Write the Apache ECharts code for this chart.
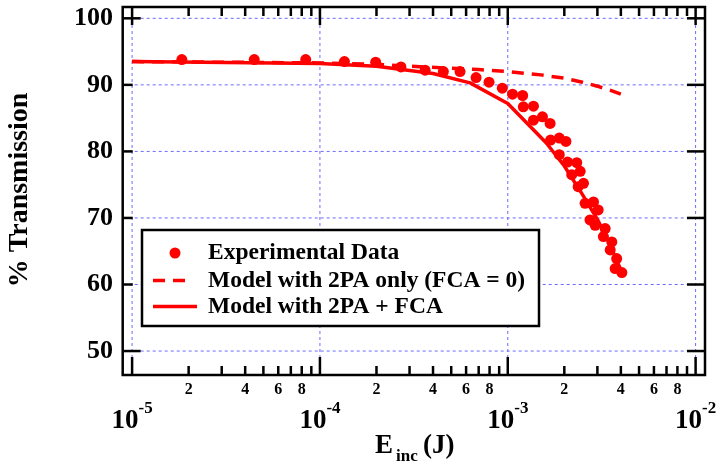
<!DOCTYPE html>
<html><head><meta charset="utf-8">
<script src="https://cdn.jsdelivr.net/npm/echarts@6/dist/echarts.min.js"></script>
<style>html,body{margin:0;padding:0;background:#fff}#c{width:719px;height:464px}</style>
</head><body><div id="c"></div>
<script>
// ---- data ----
const expE = [1.84e-5, 4.47e-5, 8.4e-5, 1.35e-4, 1.98e-4, 2.70e-4, 3.63e-4, 4.54e-4, 5.57e-4, 6.78e-4,
  7.95e-4, 9.35e-4, 1.06e-3, 1.20e-3, 1.21e-3, 1.37e-3, 1.37e-3, 1.53e-3, 1.68e-3, 1.69e-3,
  1.88e-3, 2.04e-3, 1.88e-3, 2.08e-3, 2.33e-3, 2.43e-3, 2.19e-3, 2.37e-3, 2.53e-3, 2.58e-3,
  2.86e-3, 3.03e-3, 2.74e-3, 2.92e-3, 3.30e-3, 3.23e-3, 3.58e-3, 3.51e-3, 3.80e-3, 3.73e-3, 4.05e-3];
const expT = [93.8, 93.8, 93.8, 93.5, 93.4, 92.7, 92.2, 92.0, 92.0, 91.1,
  90.4, 89.5, 88.6, 88.4, 86.7, 86.8, 84.7, 85.2, 84.2, 81.7,
  82.0, 81.5, 79.5, 78.4, 78.3, 77.0, 76.5, 74.7, 75.2, 72.2,
  72.4, 71.2, 69.7, 68.9, 68.4, 67.2, 66.4, 65.2, 63.9, 62.4, 61.8];
const tpaE = [1e-5, 1e-4, 2e-4, 3e-4, 5e-4, 7e-4, 1e-3, 1.5e-3, 2e-3, 2.5e-3, 3e-3, 3.5e-3, 4e-3];
const tpaT = [93.5, 93.3, 93.1, 92.8, 92.5, 92.3, 92.0, 91.5, 91.0, 90.4, 89.8, 89.2, 88.6];
const fcaE = [1e-5, 1e-4, 2e-4, 4e-4, 6.3e-4, 1e-3, 1.6e-3, 2e-3, 2.5e-3, 3e-3, 3.5e-3, 4e-3];
const fcaT = [93.5, 93.2, 92.8, 91.7, 90.3, 87.2, 81.3, 77.8, 73.5, 69.8, 66.0, 62.2];
const yTicks = [50, 60, 70, 80, 90, 100];
const xMajor = [1e-5, 1e-4, 1e-3, 1e-2];
const xMajorExp = ['-5', '-4', '-3', '-2'];
const xMinorMult = [2, 3, 4, 5, 6, 7, 8, 9];
const xMinorLabeled = [2, 4, 6, 8];
const seriesNames = ['Experimental Data', 'Model with 2PA only (FCA = 0)', 'Model with 2PA + FCA'];
const xTitleMain = 'E', xTitleSub = 'inc', xTitleUnit = '(J)';
const yTitle = '% Transmission';

// ---- chart ----
const RED = '#ff0000';
const FONT = '"Liberation Serif", "Times New Roman", serif';
const chart = echarts.init(document.getElementById('c'), null, {renderer: 'canvas'});
const zip = (a, b) => a.map((v, i) => [v, b[i]]);
const option = {
  animation: false,
  backgroundColor: '#fff',
  grid: {left: 122.7, right: 14, top: 7, bottom: 89, containLabel: false},
  xAxis: {type: 'log', logBase: 10, min: Math.pow(10, -5.05), max: Math.pow(10, -1.95),
    axisLine: {show: false}, axisTick: {show: false}, axisLabel: {show: false}, splitLine: {show: false}},
  yAxis: {type: 'value', min: 46.4, max: 101.7,
    axisLine: {show: false}, axisTick: {show: false}, axisLabel: {show: false}, splitLine: {show: false}},
  series: [
    {name: seriesNames[1], type: 'line', data: zip(tpaE, tpaT), showSymbol: false, z: 3,
      lineStyle: {color: RED, width: 3.5, type: [12, 8]}},
    {name: seriesNames[2], type: 'line', data: zip(fcaE, fcaT), showSymbol: false, z: 3,
      lineStyle: {color: RED, width: 3.5}},
    {name: seriesNames[0], type: 'scatter', data: zip(expE, expT), symbol: 'circle', symbolSize: 11, z: 4,
      itemStyle: {color: RED, opacity: 1}}
  ]
};
chart.setOption(option);

const px = v => chart.convertToPixel({xAxisIndex: 0}, v);
const py = v => chart.convertToPixel({yAxisIndex: 0}, v);
const L = 122.7, R = 705, T = 7, B = 375;
const g = [];
const line = (x1, y1, x2, y2, style, z) => g.push({type: 'line', z: z || 50, silent: true,
  shape: {x1, y1, x2, y2}, style: Object.assign({stroke: '#000', lineWidth: 2.5}, style)});
const text = (x, y, t, size, align, vAlign, extra) => g.push(Object.assign({type: 'text', z: 60, silent: true, x, y,
  style: {text: t, font: 'bold ' + size + 'px ' + FONT, fill: '#000', align: align, verticalAlign: vAlign}}, extra || {}));

// grid lines (dotted blue)
const gridStyle = {stroke: '#6b6bff', lineWidth: 1, lineDash: [3, 3]};
xMajor.forEach(v => line(px(v), T, px(v), B, gridStyle, 1));
yTicks.forEach(v => line(L, py(v), R, py(v), gridStyle, 1));

// frame
g.push({type: 'rect', z: 55, silent: true, shape: {x: L, y: T, width: R - L, height: B - T},
  style: {fill: 'none', stroke: '#000', lineWidth: 2.5}});

// x ticks
xMajor.forEach((v, i) => {
  const x = px(v);
  line(x, B, x, B - 18); line(x, T, x, T + 18);
  text(x - 7, 421, '10', 27, 'center', 'middle');
  text(x + 6.5, 409, xMajorExp[i], 17, 'left', 'middle');
});
xMajor.slice(0, 3).forEach(v => {
  xMinorMult.forEach(m => {
    const x = px(m * v);
    line(x, B, x, B - 9); line(x, T, x, T + 9);
    if (xMinorLabeled.indexOf(m) >= 0) text(x, 390, String(m), 16, 'center', 'middle');
  });
});
// y ticks
yTicks.forEach(v => {
  const y = py(v);
  const len = (v === 50 || v === 100) ? 18 : 10;
  line(L, y, L + len, y); line(R, y, R - 18, y);
  text(113, y, String(v), 26, 'right', 'middle');
});

// axis titles
text(375, 446, xTitleMain, 27, 'left', 'middle');
text(396, 457, xTitleSub, 17, 'left', 'middle');
text(423, 446, xTitleUnit, 27, 'left', 'middle');
text(20, 190, yTitle, 28, 'center', 'middle', {rotation: Math.PI / 2});

// legend
g.push({type: 'rect', z: 90, silent: true, shape: {x: 142, y: 230, width: 397, height: 96},
  style: {fill: '#fff', stroke: '#000', lineWidth: 2.5}});
const rows = [253, 280.5, 306.5];
g.push({type: 'circle', z: 91, silent: true, shape: {cx: 175, cy: rows[0], r: 5.5}, style: {fill: RED}});
line(153, rows[1], 185, rows[1], {stroke: RED, lineWidth: 3.5, lineDash: [12, 8]}, 91);
line(153, rows[2], 197, rows[2], {stroke: RED, lineWidth: 3.5}, 91);
seriesNames.forEach((n, i) => text(208, rows[i], n, 23.5, 'left', 'middle', {z: 92}));

chart.setOption({graphic: {elements: g}});
</script>
</body></html>
